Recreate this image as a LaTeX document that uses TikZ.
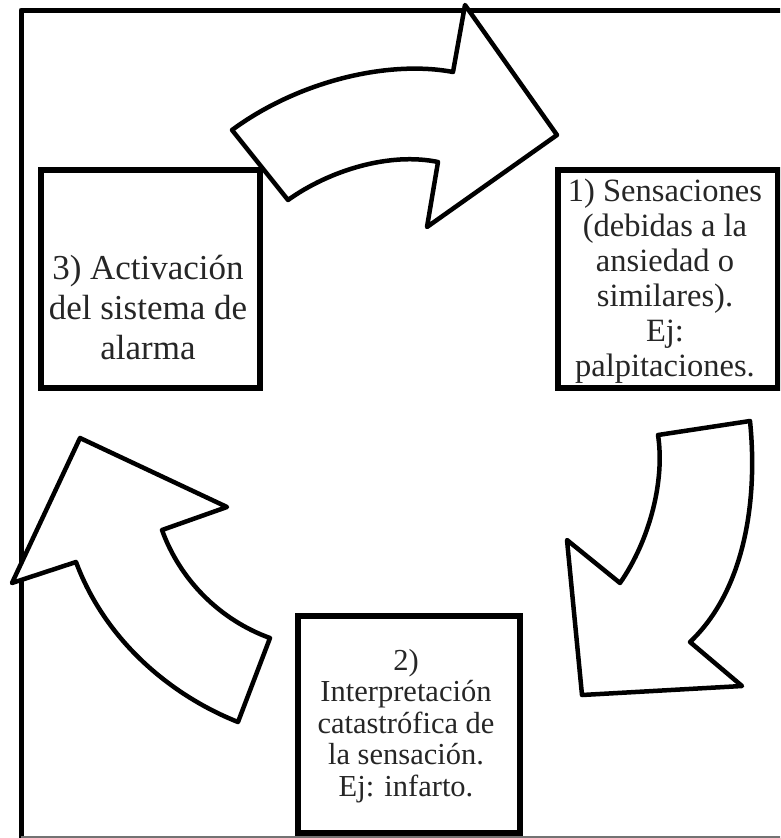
\documentclass[tikz,border=0pt]{standalone}
\usepackage{fontspec}
\setmainfont{Liberation Serif}
\begin{document}
\begin{tikzpicture}[x=1pt,y=-1pt,
  framebox/.style={draw=black,line width=5pt,line join=round},
  boxstyle/.style={draw=black,line width=5.5pt,inner sep=0pt,anchor=north west},
  curvedarrow/.style={draw=black,fill=white,line width=4.5pt,line join=round},
  labeltext/.style={align=center,inner sep=0pt,text=black!85}]
\useasboundingbox (0,0) rectangle (780,838);
\clip (0,0) rectangle (780,838);
\fill[white] (0,0) rectangle (780,838);
% outer frame
\draw[framebox] (21,845) -- (21,10) -- (790,10);
\draw[black!55,line width=2pt] (21,837) -- (790,837);
% boxes
\node[boxstyle,minimum width=219pt,minimum height=218pt] (b3) at (38,167) {};
\node[boxstyle,minimum width=220pt,minimum height=218pt] (b1) at (555,167) {};
\node[boxstyle,minimum width=222pt,minimum height=217pt] (b2) at (295,613) {};
% texts
\node[labeltext,font=\fontsize{35}{40}\selectfont] (t3) at (148,307) {3) Activación\\del sistema de\\alarma};
\node[labeltext,font=\fontsize{32.5}{35}\selectfont] (t1) at (665,281) {1) Sensaciones\\(debidas a la\\ansiedad o\\similares).\\Ej:\\palpitaciones.};
\node[labeltext,font=\fontsize{30.5}{31.5}\selectfont] (t2) at (406,726) {2)\\Interpretación\\catastrófica de\\la sensación.\\Ej: infarto.};
% arrow top (3 -> 1)
\draw[curvedarrow] (232,130) .. controls (300,80) and (390,60) .. (453,72)
  -- (465,5) -- (557,135) -- (427,227) -- (438,162)
  .. controls (390,152) and (330,170) .. (288,200) -- cycle;
% arrow right (1 -> 2)
\draw[curvedarrow] (658,435) -- (750,421)
  .. controls (758,500) and (745,590) .. (690,642)
  -- (742,686) -- (582,695) -- (567,540) -- (620,583)
  .. controls (650,540) and (665,480) .. cycle;
% arrow left (2 -> 3)
\draw[curvedarrow] (80,438) -- (227,507) -- (162,530)
  .. controls (180,580) and (220,620) .. (270,638)
  -- (238,722)
  .. controls (170,695) and (105,640) .. (76,562)
  -- (12,583) -- cycle;
\end{tikzpicture}
\end{document}
